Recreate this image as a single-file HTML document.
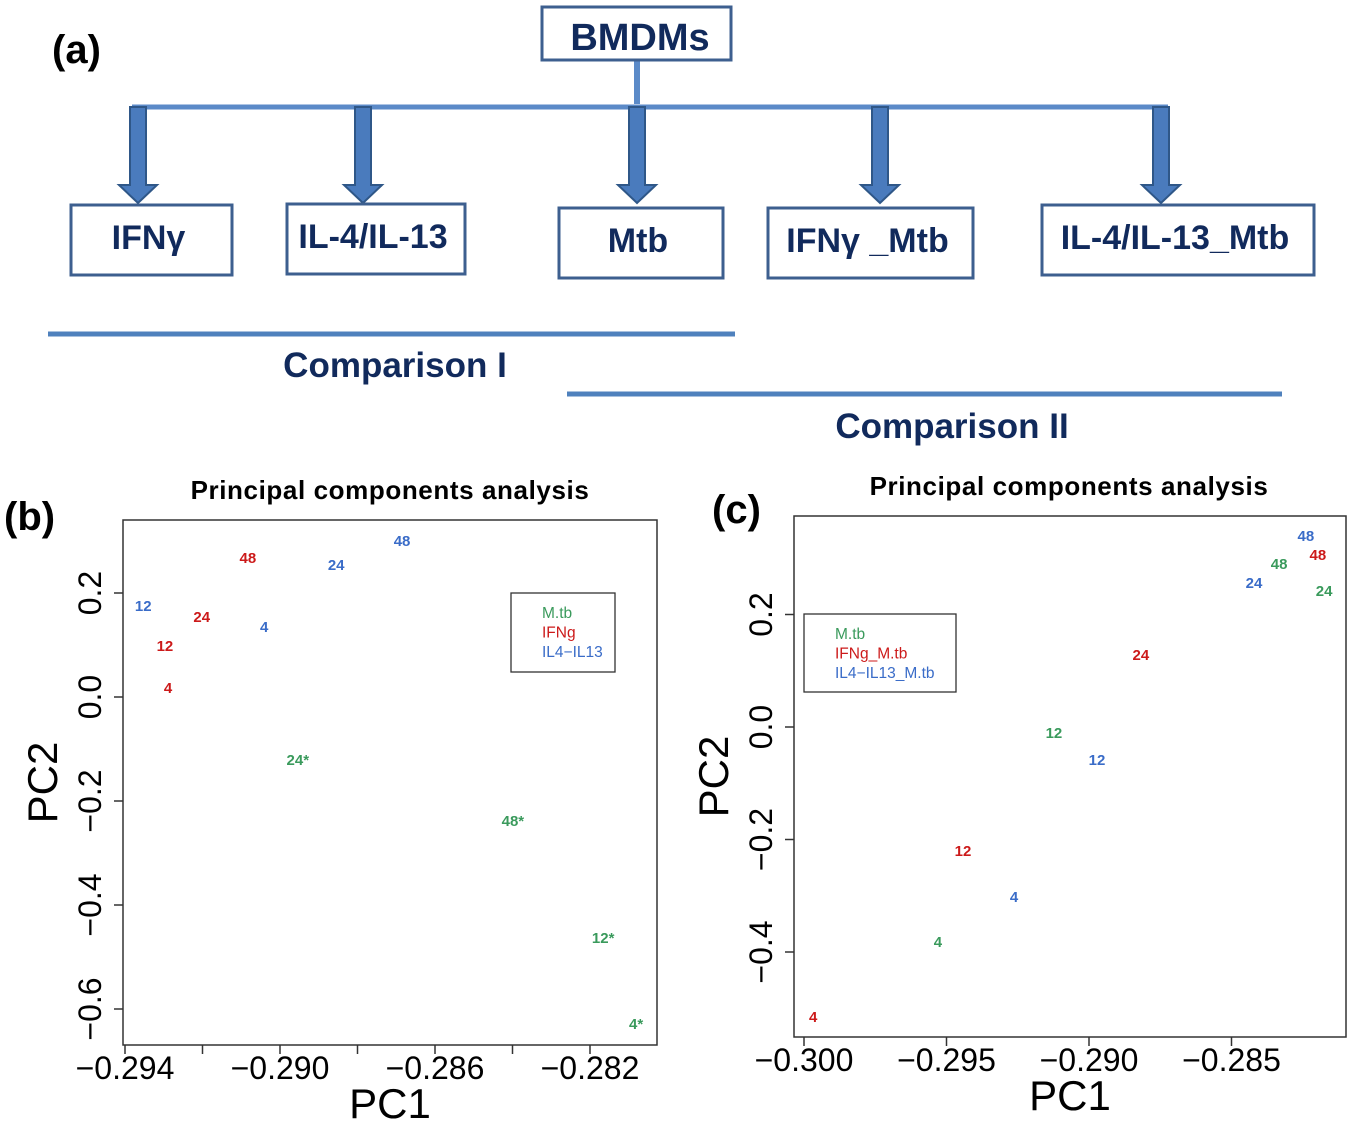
<!DOCTYPE html>
<html><head><meta charset="utf-8"><style>
html,body{margin:0;padding:0;background:#fff;}
svg{display:block;font-family:"Liberation Sans",Arial,sans-serif;}
</style></head><body>
<svg id="fig" width="1350" height="1124" viewBox="0 0 1350 1124">
<g id="panelA">
<text x="52" y="63" font-size="40" font-weight="bold">(a)</text>
<line x1="637" y1="61" x2="637" y2="104" stroke="#5b8ac8" stroke-width="6"/>
<line x1="132" y1="107" x2="1168" y2="107" stroke="#5b8ac8" stroke-width="5"/>
<rect x="542" y="7" width="189" height="53" fill="#fff" stroke="#3d5f8f" stroke-width="3"/>
<text x="640" y="50" font-size="38" font-weight="bold" fill="#112a5c" text-anchor="middle">BMDMs</text>
<line x1="48" y1="334" x2="735" y2="334" stroke="#4f81bd" stroke-width="5"/>
<text x="395" y="377" font-size="35" font-weight="bold" fill="#112a5c" text-anchor="middle">Comparison I</text>
<line x1="567" y1="394" x2="1282" y2="394" stroke="#4f81bd" stroke-width="5"/>
<text x="952" y="438" font-size="35" font-weight="bold" fill="#112a5c" text-anchor="middle">Comparison II</text>
</g>
<g id="panelB"></g>
<g id="panelC"></g>
</svg>
<script>
const NS="http://www.w3.org/2000/svg";
function mk(parent,tag,attrs,text){const e=document.createElementNS(NS,tag);for(const k in attrs)e.setAttribute(k,attrs[k]);if(text!==undefined)e.textContent=text;parent.appendChild(e);return e;}

// ---- Diagram data ----
const boxLabels=["IFNγ","IL-4/IL-13","Mtb","IFNγ _Mtb","IL-4/IL-13_Mtb"];
const boxLeft=[71,287,559,768,1042];
const boxRight=[232,465,723,973,1314];
const boxTop=[205,204,208,208,205];
const arrowX=[138,363,637,880,1161];
const pa=document.getElementById('panelA');
for(let i=0;i<boxLabels.length;i++){
  const x=arrowX[i];
  const ar=mk(pa,'path',{d:`M${x-8},107 L${x+8},107 L${x+8},185 L${x+19},185 L${x},203 L${x-19},185 L${x-8},185 Z`,fill:'#4a7bbd',stroke:'#2f5788','stroke-width':2});
  
  
  const b=mk(pa,'rect',{x:boxLeft[i],y:boxTop[i],width:boxRight[i]-boxLeft[i],height:70,fill:'#fff',stroke:'#3d5f8f','stroke-width':3});
  
  
  const t=mk(pa,'text',{x:(boxLeft[i]+boxRight[i])/2-3,y:boxTop[i]+44,'font-size':34,'font-weight':'bold',fill:'#112a5c','text-anchor':'middle'},boxLabels[i]);
  
  
}

// ---- Panel B data ----
const bLabels=["48","24","12","4","12","4","24","48","24*","48*","12*","4*"];
const bGroup=[1,1,1,1,2,2,2,2,0,0,0,0];
const bPC1=[-0.29083,-0.29202,-0.29297,-0.29289,-0.29353,-0.29041,-0.28855,-0.28685,-0.28954,-0.28399,-0.28166,-0.28081];
const bPC2=[0.269,0.156,0.100,0.019,0.177,0.137,0.256,0.302,-0.119,-0.237,-0.462,-0.627];
const bXTicks=[-0.294,-0.292,-0.290,-0.288,-0.286,-0.284,-0.282];
const bXTickLabels=["−0.294","","−0.290","","−0.286","","−0.282"];
const bYTicks=[0.2,0.0,-0.2,-0.4,-0.6];
const bYTickLabels=["0.2","0.0","−0.2","−0.4","−0.6"];
const bLegend=["M.tb","IFNg","IL4−IL13"];

// ---- Panel C data ----
const cLabels=["4","12","24","48","4","12","48","24","4","12","24","48"];
const cGroup=[1,1,1,1,0,0,0,0,2,2,2,2];
const cPC1=[-0.29968,-0.29442,-0.28818,-0.28197,-0.29530,-0.29123,-0.28333,-0.28175,-0.29263,-0.28972,-0.28421,-0.28239];
const cPC2=[-0.514,-0.219,0.130,0.308,-0.380,-0.009,0.292,0.244,-0.300,-0.057,0.258,0.341];
const cXTicks=[-0.300,-0.295,-0.290,-0.285];
const cXTickLabels=["−0.300","−0.295","−0.290","−0.285"];
const cYTicks=[0.2,0.0,-0.2,-0.4];
const cYTickLabels=["0.2","0.0","−0.2","−0.4"];
const cLegend=["M.tb","IFNg_M.tb","IL4−IL13_M.tb"];

const colors=["#3a9a5c","#cc1a1a","#3a6cc8"];

function drawPanel(g,cfg){
  const X=v=>cfg.x0px+(v-cfg.x0)*cfg.xs;
  const Y=v=>cfg.y0px-(v-cfg.y0)*cfg.ys;
  let e=mk(g,'text',{x:cfg.lx,y:cfg.ly,'font-size':40,'font-weight':'bold'},cfg.panel);
  
  e=mk(g,'text',{x:cfg.tx,y:cfg.ty,'font-size':26,'font-weight':'bold','text-anchor':'middle','letter-spacing':'0.6'},'Principal components analysis');
  
  e=mk(g,'rect',{x:cfg.bx,y:cfg.by,width:cfg.bw,height:cfg.bh,fill:'none',stroke:'#333','stroke-width':1.5});
  
  cfg.xt.forEach((v,i)=>{
    const x=X(v);
    const t=mk(g,'line',{x1:x,y1:cfg.by+cfg.bh,x2:x,y2:cfg.by+cfg.bh+9,stroke:'#333','stroke-width':1.5});
    
    if(cfg.xtl[i]){const l=mk(g,'text',{x:x,y:cfg.by+cfg.bh+34,'font-size':32,'text-anchor':'middle'},cfg.xtl[i]);
    }
  });
  cfg.yt.forEach((v,i)=>{
    const y=Y(v);
    const t=mk(g,'line',{x1:cfg.bx-9,y1:y,x2:cfg.bx,y2:y,stroke:'#333','stroke-width':1.5});
    
    const lx=cfg.bx-22;
    const l=mk(g,'text',{x:lx,y:y,'font-size':32,'text-anchor':'middle',transform:`rotate(-90 ${lx} ${y})`},cfg.ytl[i]);
    
  });
  e=mk(g,'text',{x:cfg.bx+cfg.bw/2,y:cfg.by+cfg.bh+73,'font-size':42,'text-anchor':'middle'},'PC1');
  
  const ax=cfg.bx-66, ay=cfg.by+cfg.bh/2;
  e=mk(g,'text',{x:ax,y:ay,'font-size':42,'text-anchor':'middle',transform:`rotate(-90 ${ax} ${ay})`},'PC2');
  
  cfg.labels.forEach((s,i)=>{
    const p=mk(g,'text',{x:X(cfg.px[i]),y:Y(cfg.py[i])+6,'font-size':15,'font-weight':'bold',fill:colors[cfg.grp[i]],'text-anchor':'middle'},s);
    
    
  });
  e=mk(g,'rect',{x:cfg.lgx,y:cfg.lgy,width:cfg.lgw,height:cfg.lgh,fill:'#fff',stroke:'#333','stroke-width':1.3});
  
  cfg.legend.forEach((s,i)=>{
    const l=mk(g,'text',{x:cfg.lgx+31,y:cfg.lgy+25+i*19.5,'font-size':15.5,fill:colors[i]},s);
    
    
  });
}
drawPanel(document.getElementById('panelB'),{id:'pca-b',panel:'(b)',lx:4,ly:530,tx:390,ty:499,
  bx:123,by:520,bw:534,bh:525,x0:-0.294,x0px:125,xs:38750,y0:0,y0px:697,ys:520,
  xt:bXTicks,xtl:bXTickLabels,yt:bYTicks,ytl:bYTickLabels,labels:bLabels,grp:bGroup,px:bPC1,py:bPC2,
  lgx:511,lgy:593,lgw:104,lgh:79,legend:bLegend});
drawPanel(document.getElementById('panelC'),{id:'pca-c',panel:'(c)',lx:712,ly:523,tx:1069,ty:495,
  bx:794,by:516,bw:552,bh:521,x0:-0.300,x0px:804,xs:28500,y0:0,y0px:727,ys:562.5,
  xt:cXTicks,xtl:cXTickLabels,yt:cYTicks,ytl:cYTickLabels,labels:cLabels,grp:cGroup,px:cPC1,py:cPC2,
  lgx:804,lgy:614,lgw:152,lgh:78,legend:cLegend});
</script>
</body></html>
